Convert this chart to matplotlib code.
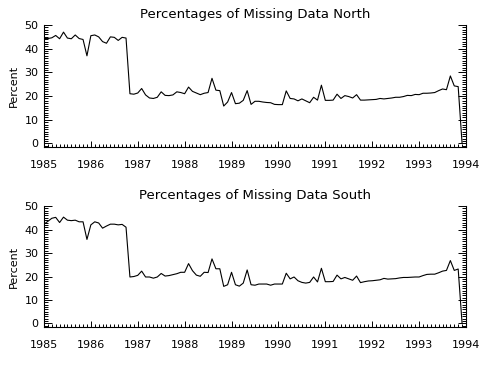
import numpy as np
import matplotlib
matplotlib.use("Agg")
import matplotlib.pyplot as plt
from matplotlib.ticker import MultipleLocator

# monthly values, Jan 1985 .. Dec 1993
north = [44.3, 44.3, 44.6, 45.6, 44.2, 47.0, 44.5, 44.2, 45.8, 44.3, 43.9, 37.0,
         45.5, 45.8, 45.0, 43.0, 42.3, 45.0, 44.8, 43.5, 44.8, 44.5, 21.0, 20.8,
         21.3, 23.2, 20.5, 19.2, 19.0, 19.5, 21.8, 20.3, 20.2, 20.5, 21.8, 21.5,
         21.0, 23.8, 22.0, 21.3, 20.6, 21.2, 21.5, 27.5, 22.5, 22.3, 15.8, 17.5,
         21.5, 16.8, 17.0, 18.2, 22.3, 16.5, 17.8, 17.8, 17.5, 17.3, 17.2, 16.5,
         16.4, 16.4, 22.2, 19.0, 18.8, 18.0, 18.8, 18.0, 17.2, 19.5, 18.3, 24.6,
         18.2, 18.2, 18.3, 20.8, 19.0, 20.2, 19.8, 19.2, 20.6, 18.3, 18.3, 18.4,
         18.5, 18.6, 19.0, 18.8, 19.0, 19.2, 19.5, 19.5, 19.8, 20.3, 20.2, 20.7,
         20.6, 21.2, 21.2, 21.3, 21.5, 22.3, 23.0, 22.7, 28.5, 24.3, 24.0, 0.0]

south = [42.3, 43.5, 44.8, 45.2, 43.0, 45.3, 44.0, 43.8, 44.0, 43.3, 43.3, 35.8,
         42.0, 43.3, 42.8, 40.6, 41.5, 42.3, 42.3, 42.0, 42.2, 41.0, 19.8, 20.0,
         20.5, 22.3, 19.8, 19.8, 19.3, 19.8, 21.3, 20.2, 20.4, 20.8, 21.2, 21.8,
         21.8, 25.5, 22.5, 20.6, 20.1, 21.8, 21.7, 27.5, 23.3, 23.3, 15.8, 16.5,
         21.8, 16.5, 15.9, 17.2, 22.8, 16.5, 16.3, 16.8, 16.8, 16.8, 16.3, 16.8,
         16.8, 16.8, 21.4, 19.0, 19.8, 18.2, 17.5, 17.2, 17.5, 19.8, 17.7, 23.5,
         17.8, 17.8, 17.9, 20.6, 19.0, 19.6, 19.0, 18.4, 20.2, 17.4, 17.8, 18.1,
         18.2, 18.4, 18.6, 19.2, 18.9, 19.0, 19.1, 19.4, 19.6, 19.6, 19.7, 19.8,
         19.8, 20.4, 20.9, 21.0, 21.0, 21.6, 22.3, 22.6, 26.8, 22.6, 23.2, 0.0]

titles = ["Percentages of Missing Data North", "Percentages of Missing Data South"]
years = 1985 + np.arange(len(north)) / 12.0

fig = plt.figure(figsize=(4.94, 3.68), dpi=100)
ax1 = fig.add_axes([0.089, 0.6005, 0.8543, 0.3315])
ax2 = fig.add_axes([0.089, 0.1114, 0.8543, 0.3286])

for ax, vals, title in zip([ax1, ax2], [north, south], titles):
    ax.plot(years, vals, color="black", linewidth=0.8)
    ax.set_xlim(1985, 1994)
    ax.set_ylim(-1.5, 50)
    ax.set_title(title, fontsize=9.5, pad=5)
    ax.set_ylabel("Percent", fontsize=8, labelpad=4)
    ax.xaxis.set_major_locator(MultipleLocator(1))
    ax.xaxis.set_minor_locator(MultipleLocator(1 / 12))
    ax.yaxis.set_major_locator(MultipleLocator(10))
    ax.yaxis.set_minor_locator(MultipleLocator(1))
    ax.spines["top"].set_visible(False)
    for s in ["left", "bottom", "right"]:
        ax.spines[s].set_linewidth(0.8)
    ax.tick_params(axis="both", which="both", direction="in", width=0.7, labelsize=8)
    ax.tick_params(axis="y", which="both", right=True, labelright=False)
    ax.tick_params(axis="y", which="major", length=6, pad=4)
    ax.tick_params(axis="y", which="minor", length=3)
    ax.tick_params(axis="x", which="major", length=4, pad=9)
    ax.tick_params(axis="x", which="minor", length=2)

fig.savefig("out.png", dpi=100)
